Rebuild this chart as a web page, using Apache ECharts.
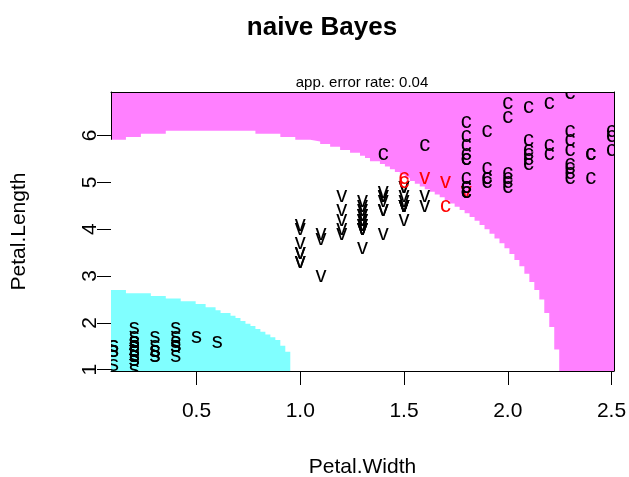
<!DOCTYPE html>
<html>

<head>
  <meta charset="utf-8">
  <title>naive Bayes</title>
  <style>
    html, body { margin: 0; padding: 0; background: #fff; }
    #chart { width: 629px; height: 477px; }
  </style>
</head>

<body>
  <div id="chart"></div>
  <script src="https://cdn.jsdelivr.net/npm/echarts@6/dist/echarts.min.js"></script>
  <script type="text/javascript">
    // iris: petal width (x) and petal length (y) per species
    var setosaWidth = [0.2, 0.2, 0.2, 0.2, 0.2, 0.4, 0.3, 0.2, 0.2, 0.1, 0.2, 0.2, 0.1, 0.1, 0.2, 0.4, 0.4, 0.3, 0.3, 0.3, 0.2, 0.4, 0.2, 0.5, 0.2, 0.2, 0.4, 0.2, 0.2, 0.2, 0.2, 0.4, 0.1, 0.2, 0.2, 0.2, 0.2, 0.1, 0.2, 0.2, 0.3, 0.3, 0.2, 0.6, 0.4, 0.3, 0.2, 0.2, 0.2, 0.2];
    var setosaLength = [1.4, 1.4, 1.3, 1.5, 1.4, 1.7, 1.4, 1.5, 1.4, 1.5, 1.5, 1.6, 1.4, 1.1, 1.2, 1.5, 1.3, 1.4, 1.7, 1.5, 1.7, 1.5, 1.0, 1.7, 1.9, 1.6, 1.6, 1.5, 1.4, 1.6, 1.6, 1.5, 1.5, 1.4, 1.5, 1.2, 1.3, 1.4, 1.3, 1.5, 1.3, 1.3, 1.3, 1.6, 1.9, 1.4, 1.6, 1.4, 1.5, 1.4];
    var versicolorWidth = [1.4, 1.5, 1.5, 1.3, 1.5, 1.3, 1.6, 1.0, 1.3, 1.4, 1.0, 1.5, 1.0, 1.4, 1.3, 1.4, 1.5, 1.0, 1.5, 1.1, 1.8, 1.3, 1.5, 1.2, 1.3, 1.4, 1.4, 1.7, 1.5, 1.0, 1.1, 1.0, 1.2, 1.6, 1.5, 1.6, 1.5, 1.3, 1.3, 1.3, 1.2, 1.4, 1.2, 1.0, 1.3, 1.2, 1.3, 1.3, 1.1, 1.3];
    var versicolorLength = [4.7, 4.5, 4.9, 4.0, 4.6, 4.5, 4.7, 3.3, 4.6, 3.9, 3.5, 4.2, 4.0, 4.7, 3.6, 4.4, 4.5, 4.1, 4.5, 3.9, 4.8, 4.0, 4.9, 4.7, 4.3, 4.4, 4.8, 5.0, 4.5, 3.5, 3.8, 3.7, 3.9, 5.1, 4.5, 4.5, 4.7, 4.4, 4.1, 4.0, 4.4, 4.6, 4.0, 3.3, 4.2, 4.2, 4.2, 4.3, 3.0, 4.1];
    var virginicaWidth = [2.5, 1.9, 2.1, 1.8, 2.2, 2.1, 1.7, 1.8, 1.8, 2.5, 2.0, 1.9, 2.1, 2.0, 2.4, 2.3, 1.8, 2.2, 2.3, 1.5, 2.3, 2.0, 2.0, 1.8, 2.1, 1.8, 1.8, 1.8, 2.1, 1.6, 1.9, 2.0, 2.2, 1.5, 1.4, 2.3, 2.4, 1.8, 1.8, 2.1, 2.4, 2.3, 1.9, 2.3, 2.5, 2.3, 1.9, 2.0, 2.3, 1.8];
    var virginicaLength = [6.0, 5.1, 5.9, 5.6, 5.8, 6.6, 4.5, 6.3, 5.8, 6.1, 5.1, 5.3, 5.5, 5.0, 5.1, 5.3, 5.5, 6.7, 6.9, 5.0, 5.7, 4.9, 6.7, 4.9, 5.7, 6.0, 4.8, 4.9, 5.6, 5.8, 6.1, 6.4, 5.6, 5.1, 5.6, 6.1, 5.6, 5.5, 4.8, 5.4, 5.6, 5.1, 5.1, 5.9, 5.7, 5.2, 5.0, 5.2, 5.4, 5.1];

    // misclassified points (index inside each species)
    var versicolorWrong = [20, 27, 33];
    var virginicaWrong = [6, 19, 33];

    // decision regions: left cell edge -> top of region
    var versicolorEdgeX = [0.088, 0.160, 0.232, 0.352, 0.784, 0.904, 0.976, 1.048, 1.096, 1.144, 1.192, 1.240, 1.288, 1.312, 1.336, 1.384, 1.408, 1.432, 1.456, 1.480, 1.504, 1.528, 1.552, 1.576, 1.600, 1.624, 1.648, 1.672, 1.696, 1.720, 1.744, 1.768, 1.792, 1.816, 1.840, 1.864, 1.888, 1.912, 1.936, 1.960, 1.984, 2.008, 2.032, 2.056, 2.080, 2.104, 2.128, 2.152, 2.176, 2.200, 2.224, 2.248];
    var versicolorTopY = [5.91, 5.97, 6.04, 6.10, 6.04, 5.97, 5.91, 5.87, 5.82, 5.76, 5.69, 5.63, 5.57, 5.52, 5.45, 5.39, 5.34, 5.28, 5.22, 5.16, 5.10, 5.03, 4.97, 4.91, 4.85, 4.80, 4.74, 4.68, 4.62, 4.55, 4.48, 4.41, 4.34, 4.26, 4.18, 4.09, 4.00, 3.90, 3.80, 3.70, 3.59, 3.47, 3.34, 3.21, 3.05, 2.87, 2.70, 2.50, 2.21, 1.91, 1.43, 0.9705];
    var setosaEdgeX = [0.088, 0.160, 0.280, 0.352, 0.424, 0.496, 0.544, 0.592, 0.616, 0.664, 0.688, 0.712, 0.736, 0.760, 0.784, 0.808, 0.832, 0.856, 0.880, 0.904, 0.928, 0.952];
    var setosaTopY = [2.70, 2.63, 2.57, 2.52, 2.46, 2.40, 2.33, 2.27, 2.21, 2.15, 2.10, 2.04, 1.98, 1.93, 1.87, 1.81, 1.75, 1.69, 1.63, 1.51, 1.38, 0.9705];

    var xTicks = [0.5, 1.0, 1.5, 2.0, 2.5];
    var yTicks = [1, 2, 3, 4, 5, 6];

    var xMin = 0.088, xMax = 2.512, yMin = 0.9705, yMax = 6.9295;
    var font = '"Liberation Sans", Arial, Helvetica, sans-serif';
    var letters = ['s', 'v', 'c'];

    // [width, length, class index, wrong flag] in data order
    var points = [];
    function addClass(w, l, cls, wrong) {
      for (var i = 0; i < w.length; i++) {
        points.push([w[i], l[i], cls, wrong.indexOf(i) >= 0 ? 1 : 0]);
      }
    }
    addClass(setosaWidth, setosaLength, 0, []);
    addClass(versicolorWidth, versicolorLength, 1, versicolorWrong);
    addClass(virginicaWidth, virginicaLength, 2, virginicaWrong);

    function region(xs, ys) {
      return xs.map(function (x, i) { return [x, ys[i]]; });
    }

    var chart = echarts.init(document.getElementById('chart'));
    chart.setOption({
      animation: false,
      backgroundColor: '#ffffff',
      graphic: [
        { type: 'text', x: 322, y: 28, style: { text: 'naive Bayes', font: 'bold 26px ' + font, fill: '#000', align: 'center', verticalAlign: 'middle' } },
        { type: 'text', x: 362, y: 83, style: { text: 'app. error rate: 0.04', font: '15px ' + font, fill: '#000', align: 'center', verticalAlign: 'middle' } }
      ],
      grid: {
        left: 111, right: 15, top: 92, bottom: 106,
        outerBoundsMode: 'none', containLabel: false,
        show: true, backgroundColor: '#FF80FF', borderWidth: 0
      },
      xAxis: [{
        type: 'value', min: xMin, max: xMax,
        name: 'Petal.Width', nameLocation: 'middle', nameGap: 86,
        nameTextStyle: { fontSize: 21, fontFamily: font, color: '#000' },
        axisLine: { show: true, onZero: false, lineStyle: { color: '#000', width: 1 } },
        axisTick: { show: true, length: 14, customValues: xTicks, lineStyle: { color: '#000' } },
        axisLabel: { customValues: xTicks, margin: 30, fontSize: 21, fontFamily: font, color: '#000', formatter: function (v) { return v.toFixed(1); } },
        splitLine: { show: false }
      }, {
        type: 'value', position: 'top', min: xMin, max: xMax,
        axisLine: { show: true, onZero: false, lineStyle: { color: '#000', width: 1 } },
        axisTick: { show: false }, axisLabel: { show: false }, splitLine: { show: false }
      }],
      yAxis: [{
        type: 'value', min: yMin, max: yMax,
        name: 'Petal.Length', nameLocation: 'middle', nameGap: 81,
        nameTextStyle: { fontSize: 21, fontFamily: font, color: '#000' },
        axisLine: { show: true, onZero: false, lineStyle: { color: '#000', width: 1 } },
        axisTick: { show: true, length: 14, customValues: yTicks, lineStyle: { color: '#000' } },
        axisLabel: { customValues: yTicks, margin: 10, rotate: 90, fontSize: 21, fontFamily: font, color: '#000' },
        splitLine: { show: false }
      }, {
        type: 'value', position: 'right', min: yMin, max: yMax,
        axisLine: { show: true, onZero: false, lineStyle: { color: '#000', width: 1 } },
        axisTick: { show: false }, axisLabel: { show: false }, splitLine: { show: false }
      }],
      series: [{
        type: 'line', step: 'end', silent: true, symbol: 'none',
        data: region(versicolorEdgeX, versicolorTopY),
        lineStyle: { width: 0, opacity: 0 },
        areaStyle: { color: '#FFFFFF', opacity: 1, origin: 'start' },
        z: 1
      }, {
        type: 'line', step: 'end', silent: true, symbol: 'none',
        data: region(setosaEdgeX, setosaTopY),
        lineStyle: { width: 0, opacity: 0 },
        areaStyle: { color: '#80FFFF', opacity: 1, origin: 'start' },
        z: 2
      }, {
        type: 'custom', clip: true, silent: true, z: 3,
        data: points,
        renderItem: function (params, api) {
          var pt = api.coord([api.value(0), api.value(1)]);
          return {
            type: 'text', x: pt[0], y: pt[1],
            style: {
              text: letters[api.value(2)],
              fill: api.value(3) ? '#FF0000' : '#000000',
              font: '22px ' + font,
              align: 'center', verticalAlign: 'middle'
            }
          };
        }
      }]
    });
  </script>
</body>

</html>
